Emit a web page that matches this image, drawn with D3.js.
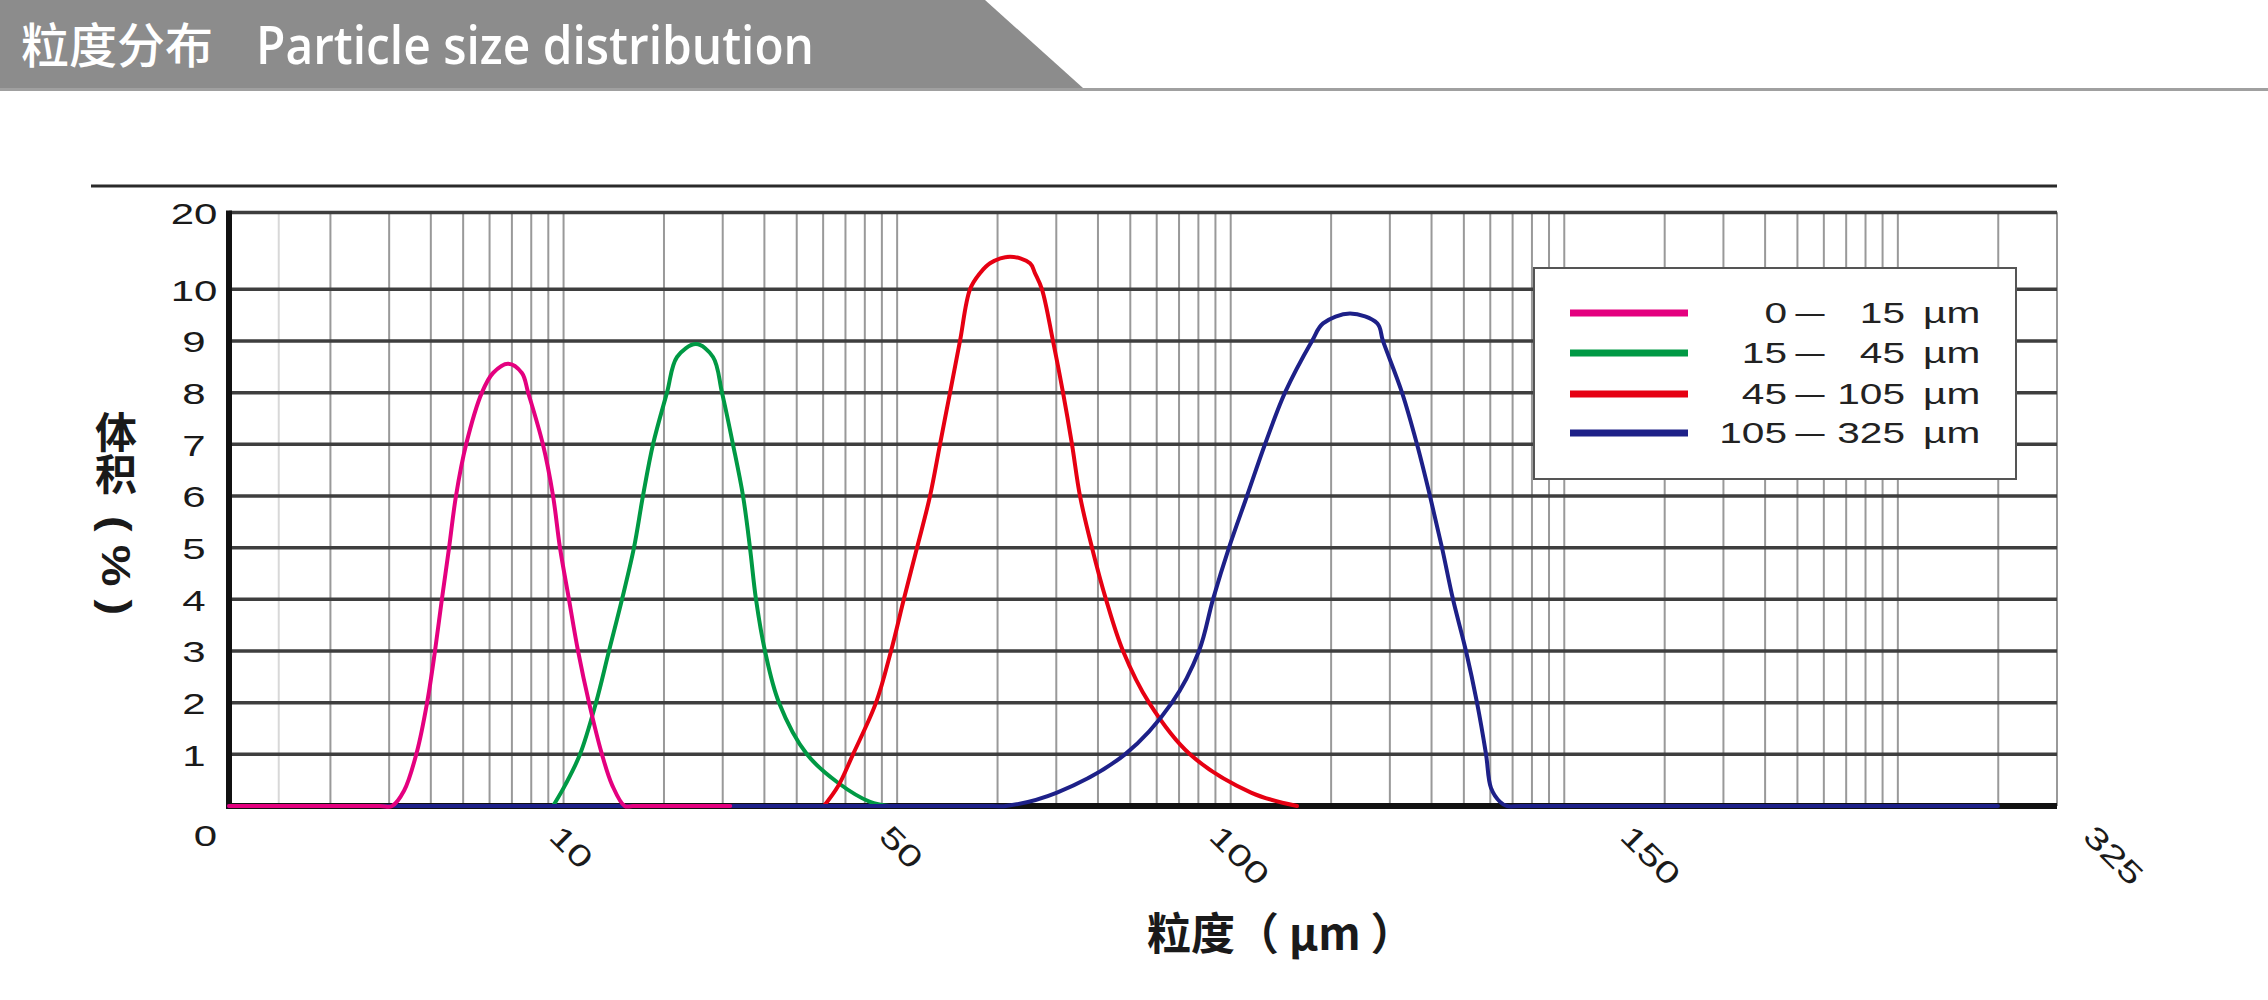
<!DOCTYPE html>
<html><head><meta charset="utf-8">
<script src="https://cdn.jsdelivr.net/npm/d3@7"></script>
<style>body{margin:0;background:#fff;} svg{display:block;}</style>
</head><body>
<svg id="chart" width="2268" height="1000"></svg>
<script>
// ---------- data ----------
const titleZh = "粒度分布";
const titleEn = "Particle size distribution";
const yAxisTitleZh = "体积";
const yAxisTitleUnit = "( % )";
const xAxisTitle = "粒度（ µm ）";
const yTicks = [1, 2, 3, 4, 5, 6, 7, 8, 9, 10, 20];
const xTickValues = [0, 10, 50, 100, 150, 325];
const xTickLabels = ["0", "10", "50", "100", "150", "325"];
const seriesNames = ["0 — 15 µm", "15 — 45 µm", "45 — 105 µm", "105 — 325 µm"];
const legendFrom = ["0", "15", "45", "105"];
const legendTo = ["15", "45", "105", "325"];
const seriesColors = ["#e4007f", "#009944", "#e60012", "#1d2088"];

// background log grid (decade multipliers)
const gridDecades = [1, 10, 100, 1000, 10000, 100000];
const gridMults = [1, 1.5, 2, 2.5, 3, 3.5, 4, 4.5, 5];

// series: particle size (µm) and volume (%)
const pinkSize = [0, 4.6, 4.97, 5.34, 5.73, 6.04, 6.28, 6.49, 6.71, 6.92, 7.23, 7.71, 8.05, 8.51, 8.93, 9.12, 9.57, 9.88, 10.36, 11.45, 12.55, 13.88, 15.45, 16.7, 18.2, 19.2, 31.0];
const pinkVol  = [0, 0,   0,    0.3,  1.05, 2,    3,    4,    5,    6,    7,    8,    8.38, 8.56, 8.38, 8,    7,    6,    5,     4,     3,     2,     1,     0.4,  0,    0,    0];

const greenSize = [9.88, 10.97, 12.79, 14.73, 16.30, 17.88, 19.33, 20.42, 21.64, 23.33, 24.55, 26.85, 28.91, 30.0, 31.33, 32.55, 33.39, 34.12, 35.21, 36.91, 40.30, 44.06, 47.94, 50.30];
const greenVol  = [0,    0.4,   1,     2,     3,     4,     5,     6,     7,     8,     8.69,  8.94,  8.69,  8,    7,     6,     5,     4,     3,     2,     1,     0.45,  0.08,  0];

const redSize = [42.36, 44.06, 45.88, 48.67, 50.61, 52.55, 54.55, 56.52, 58.03, 59.55, 61.06, 62.58, 64.09, 65.61, 68.64, 71.67, 72.42, 73.48, 75.15, 76.67, 78.03, 79.24, 81.06, 83.18, 85.76, 89.70, 95.91, 104.14, 109.73];
const redVol  = [0,     0.38,  1,     2,     3,     4,     5,     6,     7,     8,     9,     10,    12.1,  13.4,  14.25, 13.4,  12.1,  10,    9,     8,     7,     6,     5,     4,     3,     2,     1,     0.26,   0];

const blueSize = [0, 66.0, 68.03, 75.76, 86.06, 93.18, 97.27, 99.39, 101.46, 103.65, 105.84, 108.27, 111.56, 112.9, 116.18, 119.5, 120.19, 122.51, 124.33, 125.91, 127.37, 128.71, 130.29, 131.63, 132.73, 133.33, 134.43, 135.28, 137.0, 289.8];
const blueVol  = [0, 0,    0,     0.26,  1,     2,     3,     4,     5,      6,      7,      8,      9,      9.34,  9.53,   9.34,  9,      8,      7,      6,      5,      4,      3,      2,      1,      0.35,   0.08,   0,      0,     0];

// ---------- layout ----------
const svg = d3.select("#chart");
const plotLeft = 229, plotRight = 2057, plotBottom = 806;
const numFont = "'Liberation Sans', Arial, sans-serif";
const cjkFont = "'Noto Sans CJK SC', 'Noto Sans', sans-serif";
const stretch = 1.4;

const y = d3.scaleLinear().domain([0, 10, 20]).range([plotBottom, 289.3, 212.6]);
const x = d3.scaleLinear().domain(xTickValues).range([229, 557, 887, 1217, 1628, 2091]);
const gridX = d3.scaleLog().domain([0.5, 1.5e5]).range([230, plotRight]);
const plotTop = y(20);

// ---------- header ----------
svg.append("rect").attr("x", 0).attr("y", 88).attr("width", 2268).attr("height", 3).attr("fill", "#a0a0a0");
svg.append("polygon").attr("points", "0,0 985,0 1083,88 0,88").attr("fill", "#8c8c8c");
svg.append("text").attr("x", 21).attr("y", 63).attr("fill", "#fff")
  .attr("textLength", 192).attr("lengthAdjust", "spacingAndGlyphs")
  .style("font-family", cjkFont).style("font-size", "48px").style("font-weight", 500).text(titleZh);
svg.append("text").attr("x", 256).attr("y", 64).attr("fill", "#fff")
  .attr("textLength", 558).attr("lengthAdjust", "spacingAndGlyphs")
  .style("font-family", "'Open Sans', sans-serif").style("font-size", "53px").style("font-weight", 600).text(titleEn);

// chart top rule
svg.append("line").attr("x1", 91).attr("x2", plotRight).attr("y1", 186).attr("y2", 186)
  .attr("stroke", "#2a2a2a").attr("stroke-width", 3);

// ---------- grid ----------
const gridValues = gridDecades.flatMap(d => gridMults.map(m => m * d)).filter(v => v <= 1.5e5);
gridValues.push(1.5e5);
const g = svg.append("g");
g.selectAll("line.faint").data([0.7]).join("line")
  .attr("x1", d => gridX(d)).attr("x2", d => gridX(d))
  .attr("y1", plotTop).attr("y2", plotBottom)
  .attr("stroke", "#d8d8d8").attr("stroke-width", 2);
g.selectAll("line.v").data(gridValues).join("line").attr("class", "v")
  .attr("x1", d => gridX(d)).attr("x2", d => gridX(d))
  .attr("y1", plotTop).attr("y2", plotBottom)
  .attr("stroke", "#999").attr("stroke-width", 2);
g.selectAll("line.h").data(yTicks).join("line").attr("class", "h")
  .attr("x1", plotLeft).attr("x2", plotRight)
  .attr("y1", d => y(d)).attr("y2", d => y(d))
  .attr("stroke", "#3e3e3e").attr("stroke-width", 3.5);

// ---------- axes ----------
const yAxisG = svg.append("g").attr("transform", `translate(${plotLeft},0)`)
  .call(d3.axisLeft(y).tickValues(yTicks).tickSize(0).tickFormat(d3.format("d")));
yAxisG.select(".domain").remove();
yAxisG.selectAll("text")
  .attr("x", 0).attr("dy", "0.36em").attr("text-anchor", "middle")
  .attr("transform", `translate(-35,0) scale(${stretch},1)`)
  .style("font-family", numFont).style("font-size", "30px").attr("fill", "#1a1a1a");

const xAxisG = svg.append("g").attr("transform", `translate(0,${plotBottom})`)
  .call(d3.axisBottom(x).tickValues(xTickValues).tickSize(0).tickFormat((d, i) => xTickLabels[i]));
xAxisG.select(".domain").remove();
xAxisG.selectAll("text")
  .attr("x", 0).attr("y", 0).attr("dy", 0)
  .style("font-family", numFont).style("font-size", "30px").attr("fill", "#1a1a1a")
  .each(function(d, i) {
    const t = d3.select(this);
    if (i === 0) {
      t.attr("text-anchor", "middle").attr("transform", `translate(-24,40) scale(${stretch},1)`);
    } else {
      t.attr("text-anchor", "start").attr("transform", `translate(-10,32) rotate(45) scale(${stretch},1)`);
    }
  });

// thick axis lines
svg.append("line").attr("x1", plotLeft).attr("x2", plotLeft).attr("y1", plotTop - 2).attr("y2", plotBottom + 3)
  .attr("stroke", "#111").attr("stroke-width", 6);
svg.append("line").attr("x1", plotLeft - 3).attr("x2", plotRight).attr("y1", plotBottom).attr("y2", plotBottom)
  .attr("stroke", "#111").attr("stroke-width", 6);

// ---------- curves ----------
const line = d3.line().x(d => x(d[0])).y(d => y(d[1])).curve(d3.curveCatmullRom.alpha(0.5));
const series = [
  {size: greenSize, vol: greenVol, color: seriesColors[1]},
  {size: redSize, vol: redVol, color: seriesColors[2]},
  {size: blueSize, vol: blueVol, color: seriesColors[3]},
  {size: pinkSize, vol: pinkVol, color: seriesColors[0]}
];
svg.append("g").selectAll("path").data(series).join("path")
  .attr("d", s => line(s.size.map((v, i) => [v, s.vol[i]])))
  .attr("fill", "none").attr("stroke", s => s.color).attr("stroke-width", 4)
  .attr("stroke-linejoin", "round").attr("stroke-linecap", "round");

// ---------- legend ----------
const lg = svg.append("g");
lg.append("rect").attr("x", 1534).attr("y", 268).attr("width", 482).attr("height", 211)
  .attr("fill", "#fff").attr("stroke", "#555").attr("stroke-width", 2);
const rowY = [313, 353, 394, 433];
const rows = lg.selectAll("g.row").data(seriesNames).join("g").attr("class", "row")
  .attr("transform", (d, i) => `translate(0,${rowY[i]})`);
rows.append("line").attr("x1", 1570).attr("x2", 1688).attr("y1", 0).attr("y2", 0)
  .attr("stroke", (d, i) => seriesColors[i]).attr("stroke-width", 7);
const txt = (sel, xpos, anchor, str, sx) => sel.append("text")
  .attr("transform", `translate(${xpos},10) scale(${sx},1)`).attr("text-anchor", anchor)
  .style("font-family", numFont).style("font-size", "29px").attr("fill", "#222").text(str);
rows.each(function(d, i) {
  const r = d3.select(this);
  txt(r, 1787, "end", legendFrom[i], stretch);
  txt(r, 1810, "middle", "—", 1);
  txt(r, 1905, "end", legendTo[i], stretch);
  txt(r, 1923, "start", "µm", stretch);
});

// ---------- axis titles ----------
svg.append("text").attr("x", 116).attr("y", 411)
  .style("writing-mode", "vertical-rl")
  .style("font-family", cjkFont).style("font-size", "42px").style("font-weight", "bold")
  .attr("fill", "#1a1a1a").text(yAxisTitleZh);
svg.append("text").attr("transform", "translate(116,516) rotate(90)")
  .attr("dominant-baseline", "central")
  .attr("textLength", 99).attr("lengthAdjust", "spacingAndGlyphs")
  .style("font-family", numFont).style("font-size", "40px").style("font-weight", "bold")
  .attr("fill", "#1a1a1a").text(yAxisTitleUnit);
svg.append("text").attr("x", 1147).attr("y", 950)
  .style("font-family", cjkFont).style("font-size", "44px").style("font-weight", "bold")
  .attr("fill", "#1a1a1a").text(xAxisTitle);
</script>
</body></html>
